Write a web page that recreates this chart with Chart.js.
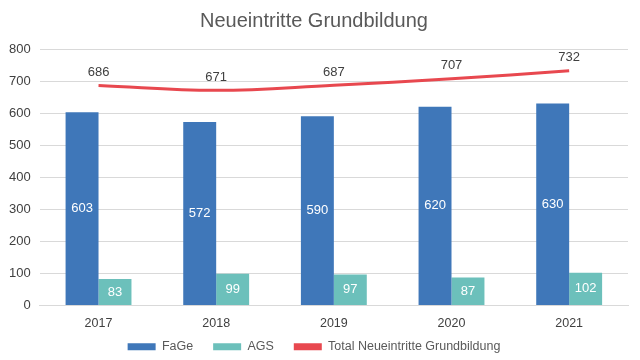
<!DOCTYPE html>
<html><head><meta charset="utf-8">
<script src="https://cdn.jsdelivr.net/npm/chart.js@4"></script>
<style>html,body{margin:0;padding:0;background:#fff}#wrap{width:640px;height:360px}</style>
</head><body><div id="wrap"><canvas id="c" width="640" height="360"></canvas></div>
<script>
const categories = ['2017','2018','2019','2020','2021'];
const fage = [603,572,590,620,630];
const ags = [83,99,97,87,102];
const total = [686,671,687,707,732];
const yTicks = [0,100,200,300,400,500,600,700,800];

const LEGEND_SHRINK = 17;
const LEGEND_SHIFT = 14;

const labelPlugin = {
  id: 'valLabels',
  afterInit(chart) {
    const lg = chart.legend;
    if (lg) {
      const orig = lg.fit;
      lg.fit = function () { orig.call(this); this.height = Math.max(1, this.height - LEGEND_SHRINK); };
    }
  },
  afterLayout(chart) {
    const lg = chart.legend;
    if (lg) {
      lg.top -= LEGEND_SHIFT;
      lg.height += LEGEND_SHRINK;
      lg.bottom = lg.top + lg.height;
    }
  },
  afterDatasetsDraw(chart) {
    const ctx = chart.ctx;
    ctx.save();
    ctx.font = '13px "Liberation Sans", Arial, sans-serif';
    ctx.textAlign = 'center';
    ctx.textBaseline = 'middle';
    chart.data.datasets.forEach((ds, i) => {
      const meta = chart.getDatasetMeta(i);
      meta.data.forEach((el, j) => {
        const v = ds.data[j];
        if (ds.type === 'line') {
          ctx.fillStyle = '#404040';
          ctx.fillText(String(v), el.x, el.y - 13);
        } else {
          ctx.fillStyle = '#ffffff';
          ctx.fillText(String(v), el.x, (el.y + el.base) / 2);
        }
      });
    });
    ctx.restore();
  }
};

new Chart(document.getElementById('c'), {
  type: 'bar',
  data: {
    labels: categories,
    datasets: [
      { type: 'line', label: 'Total Neueintritte Grundbildung', data: total, borderColor: '#e8484f', backgroundColor: '#e8484f', borderWidth: 3, pointRadius: 0, tension: 0.4, order: 0, fill: false },
      { label: 'FaGe', data: fage, backgroundColor: '#3f77b9', order: 1, categoryPercentage: 0.56, barPercentage: 1.0 },
      { label: 'AGS', data: ags, backgroundColor: '#6cc0bb', order: 1, categoryPercentage: 0.56, barPercentage: 1.0 }
    ]
  },
  options: {
    responsive: false,
    animation: false,
    devicePixelRatio: 1,
    layout: { padding: { left: 0, right: 12, top: 0, bottom: 0 } },
    plugins: {
      title: { display: true, text: 'Neueintritte Grundbildung', color: '#595959', font: { size: 20, family: '"Liberation Sans", Arial, sans-serif', weight: 'normal' }, padding: { top: 9, bottom: 16 } },
      legend: {
        position: 'bottom',
        labels: {
          color: '#595959',
          font: { size: 12.5, family: '"Liberation Sans", Arial, sans-serif' },
          boxWidth: 28, boxHeight: 7, padding: 20,
          generateLabels: (chart) => [1,2,0].map(i => { const ds = chart.data.datasets[i]; return {
            text: ds.label, fillStyle: ds.backgroundColor, strokeStyle: ds.backgroundColor, lineWidth: 0, datasetIndex: i, fontColor: '#595959'
          }; })
        }
      },
      tooltip: { enabled: false }
    },
    scales: {
      x: {
        grid: { display: false },
        border: { display: true, color: '#d9d9d9' },
        ticks: { color: '#404040', font: { size: 12.5, family: '"Liberation Sans", Arial, sans-serif' }, padding: 3 }
      },
      y: {
        min: 0, max: 800,
        afterBuildTicks: (ax) => { ax.ticks = yTicks.map(v => ({ value: v })); },
        grid: { color: '#d9d9d9', drawTicks: false },
        border: { display: false },
        ticks: { color: '#404040', font: { size: 13, family: '"Liberation Sans", Arial, sans-serif' }, padding: 9 }
      }
    }
  },
  plugins: [labelPlugin]
});
</script></body></html>
